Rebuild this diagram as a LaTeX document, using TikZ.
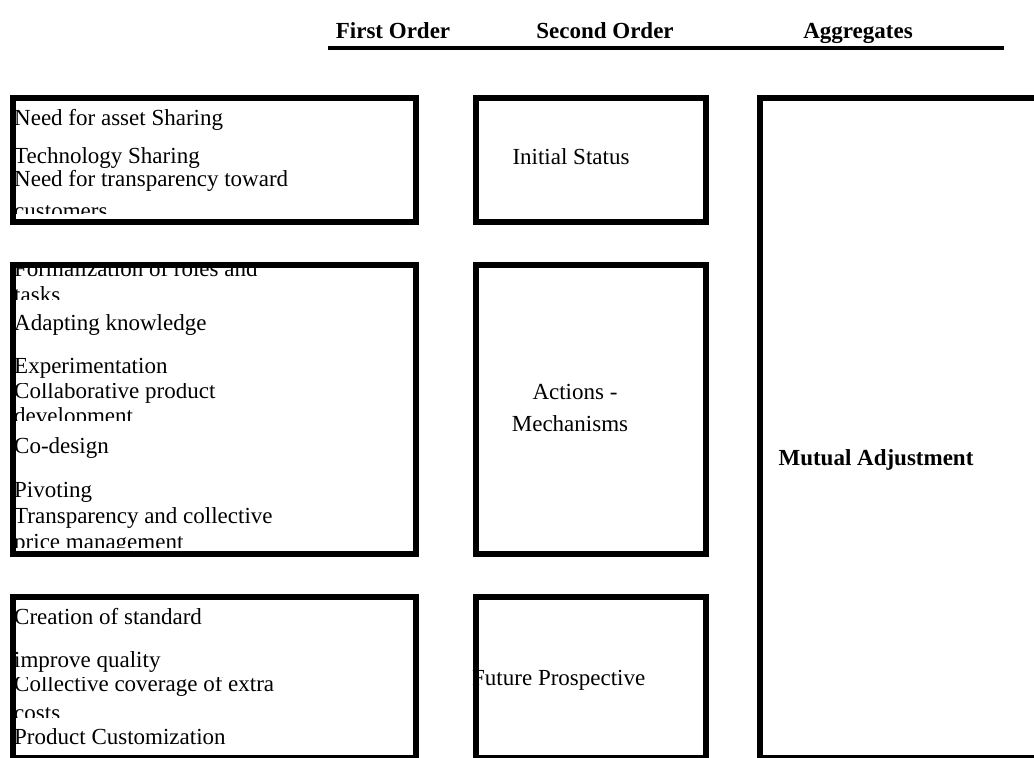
\documentclass[tikz,border=0pt]{standalone}
\usepackage{fontspec}
\setmainfont{Liberation Serif}
\begin{document}
\begin{tikzpicture}[x=1pt,y=-1pt,
  frame/.style={draw=black,line width=5.5pt,inner sep=0pt,anchor=north west},
  itemtext/.style={font=\fontsize{23}{27}\selectfont,anchor=base west,inner sep=0pt},
  midtext/.style={font=\fontsize{23}{27}\selectfont,anchor=base,inner sep=0pt},
  boldtext/.style={font=\bfseries\fontsize{23}{27}\selectfont,anchor=base,inner sep=0pt},
  headtext/.style={font=\bfseries\fontsize{23}{27}\selectfont,anchor=base,inner sep=0pt},
  rule/.style={line width=4.5pt}]
\useasboundingbox (0,0) rectangle (1034,758);
\clip (0,0) rectangle (1034,758);

% column headings and the rule beneath them
\node[headtext] (h1) at (393,38) {First Order};
\node[headtext] (h2) at (605,38) {Second Order};
\node[headtext] (h3) at (858,38) {Aggregates};
\coordinate (ruleL) at (328,48);
\coordinate (ruleR) at (1004,48);
\draw[rule] (ruleL) -- (ruleR);

% first-order concepts, group 1
\begin{scope}
  \clip (12,97) rectangle (411,213);
  \node[itemtext] (a1) at (14,125) {Need for asset Sharing};
  \node[itemtext] (a2) at (14,163) {Technology Sharing};
  \node[itemtext] (a3) at (14,186) {Need for transparency toward};
  \node[itemtext] (a4) at (14,218) {customers};
\end{scope}

% first-order concepts, group 2
\begin{scope}
  \clip (12,264) rectangle (411,299);
  \node[itemtext] (b1) at (14,276) {Formalization of roles and};
  \node[itemtext] (b1b) at (14,302) {tasks};
\end{scope}
\node[itemtext] (b2) at (14,330) {Adapting knowledge};
\node[itemtext] (b3) at (14,373) {Experimentation};
\begin{scope}
  \clip (12,383) rectangle (411,420);
  \node[itemtext] (b4) at (14,398) {Collaborative product};
  \node[itemtext] (b4b) at (14,423) {development};
\end{scope}
\node[itemtext] (b5) at (14,453) {Co-design};
\node[itemtext] (b6) at (14,497) {Pivoting};
\begin{scope}
  \clip (12,505) rectangle (411,547);
  \node[itemtext] (b7) at (14,523) {Transparency and collective};
  \node[itemtext] (b7b) at (14,549) {price management};
\end{scope}

% first-order concepts, group 3
\node[itemtext] (c1) at (14,624) {Creation of standard};
\node[itemtext] (c2) at (14,667) {improve quality};
\begin{scope}
  \clip (12,677) rectangle (411,717);
  \node[itemtext] (c3) at (14,691) {Collective coverage of extra};
  \node[itemtext] (c3b) at (14,720) {costs};
\end{scope}
\node[itemtext] (c4) at (14,744) {Product Customization};

% second-order themes and the aggregate dimension
\node[midtext] (s1) at (571,164) {Initial Status};
\node[midtext] (s2a) at (575,399) {Actions -};
\node[midtext] (s2b) at (570,431) {Mechanisms};
\node[itemtext] (s3) at (472,685) {Future Prospective};
\node[boldtext] (agg) at (876,465) {Mutual Adjustment};

% frames
\node[frame,minimum width=403pt,minimum height=124pt] (L1) at (10,95) {};
\node[frame,minimum width=230pt,minimum height=124pt] (M1) at (473,95) {};
\node[frame,minimum width=403pt,minimum height=289pt] (L2) at (10,262) {};
\node[frame,minimum width=230pt,minimum height=289pt] (M2) at (473,262) {};
\node[frame,minimum width=403pt,minimum height=161pt] (L3) at (10,594) {};
\node[frame,minimum width=230pt,minimum height=161pt] (M3) at (473,594) {};
\node[frame,minimum width=300pt,minimum height=660pt] (R) at (757,95) {};
\end{tikzpicture}
\end{document}
